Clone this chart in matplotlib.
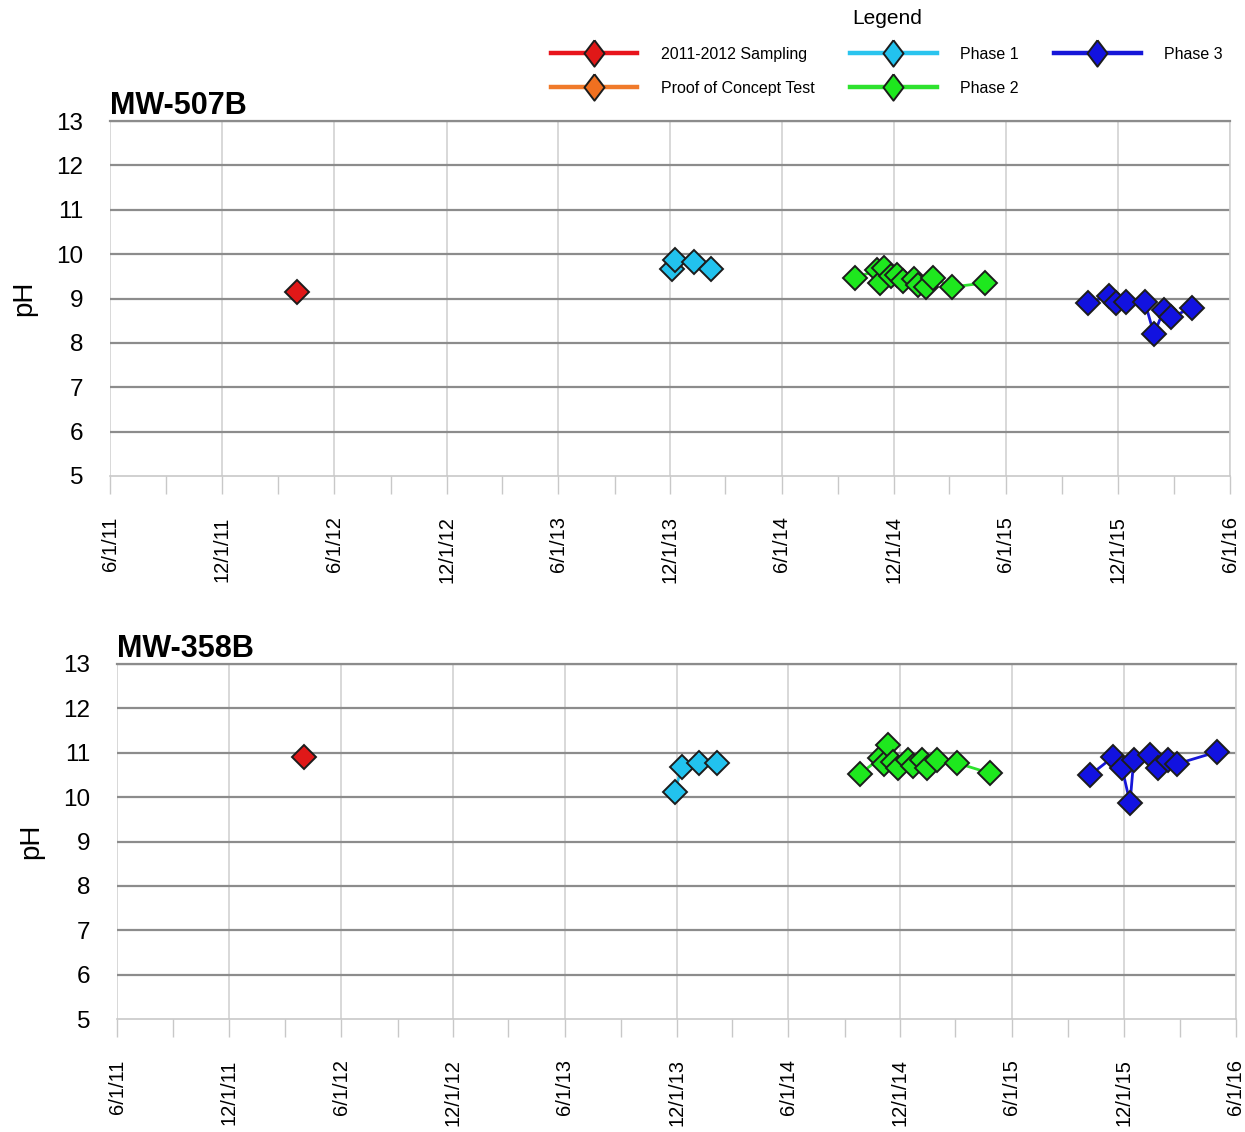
import matplotlib
matplotlib.use("Agg")
import matplotlib.pyplot as plt
import matplotlib.dates as mdates
from matplotlib.lines import Line2D
from matplotlib.ticker import FuncFormatter
import pandas as pd

plt.rcParams['font.family'] = ['Liberation Sans', 'DejaVu Sans']

# ---- MW-507B ----
w1_sampling_dates = ['2012-04-01']
w1_sampling_ph = [9.15]
w1_phase1_dates = ['2013-12-03', '2013-12-08', '2014-01-09', '2014-02-06']
w1_phase1_ph = [9.66, 9.86, 9.82, 9.66]
w1_phase2_dates = ['2014-09-28', '2014-11-03', '2014-11-08', '2014-11-15', '2014-11-26',
                   '2014-12-06', '2014-12-16', '2015-01-02', '2015-01-09', '2015-01-22',
                   '2015-02-03', '2015-03-06', '2015-04-28']
w1_phase2_ph = [9.46, 9.64, 9.35, 9.69, 9.51, 9.53, 9.39, 9.44, 9.30, 9.26, 9.46, 9.26, 9.35]
w1_phase3_dates = ['2015-10-13', '2015-11-17', '2015-11-28', '2015-12-14', '2016-01-14',
                   '2016-01-29', '2016-02-14', '2016-02-26', '2016-03-31']
w1_phase3_ph = [8.90, 9.06, 8.90, 8.92, 8.92, 8.20, 8.74, 8.58, 8.79]

# ---- MW-358B ----
w2_sampling_dates = ['2012-04-01']
w2_sampling_ph = [10.90]
w2_phase1_dates = ['2013-11-28', '2013-12-09', '2014-01-06', '2014-02-05']
w2_phase1_ph = [10.12, 10.68, 10.77, 10.77]
w2_phase2_dates = ['2014-09-26', '2014-10-29', '2014-11-04', '2014-11-11', '2014-11-19',
                   '2014-11-27', '2014-12-13', '2014-12-22', '2015-01-05', '2015-01-13',
                   '2015-01-30', '2015-03-03', '2015-04-26']
w2_phase2_ph = [10.52, 10.88, 10.75, 11.18, 10.79, 10.66, 10.84, 10.70, 10.84, 10.66,
                10.84, 10.77, 10.54]
w2_phase3_dates = ['2015-10-07', '2015-11-13', '2015-11-28', '2015-12-11', '2015-12-17',
                   '2016-01-12', '2016-01-26', '2016-02-11', '2016-02-26', '2016-05-01']
w2_phase3_ph = [10.50, 10.90, 10.65, 9.87, 10.84, 10.95, 10.65, 10.84, 10.75, 11.02]

well_names = ['MW-507B', 'MW-358B']
series_labels = ['2011-2012 Sampling', 'Proof of Concept Test', 'Phase 1', 'Phase 2', 'Phase 3']
y_ticks = [5, 6, 7, 8, 9, 10, 11, 12, 13]
x_start, x_end = '2011-06-01', '2016-06-01'

line_colors = {'2011-2012 Sampling': '#e8141c', 'Proof of Concept Test': '#f07a2a',
               'Phase 1': '#2ac4ee', 'Phase 2': '#2ee22e', 'Phase 3': '#1616d8'}
fill_colors = {'2011-2012 Sampling': '#e01818', 'Proof of Concept Test': '#f07020',
               'Phase 1': '#22c2ee', 'Phase 2': '#1ee81e', 'Phase 3': '#1212e0'}
edge_color = '#1c1c1c'

wells = [
    {'2011-2012 Sampling': (w1_sampling_dates, w1_sampling_ph),
     'Phase 1': (w1_phase1_dates, w1_phase1_ph),
     'Phase 2': (w1_phase2_dates, w1_phase2_ph),
     'Phase 3': (w1_phase3_dates, w1_phase3_ph)},
    {'2011-2012 Sampling': (w2_sampling_dates, w2_sampling_ph),
     'Phase 1': (w2_phase1_dates, w2_phase1_ph),
     'Phase 2': (w2_phase2_dates, w2_phase2_ph),
     'Phase 3': (w2_phase3_dates, w2_phase3_ph)},
]

W, H = 1245, 1132
fig = plt.figure(figsize=(W / 100, H / 100), dpi=100)

# axes boxes in pixels: left, top, right, bottom
boxes = [(110, 121, 1230, 476), (117, 664, 1236, 1019)]


def date_label(x, pos=None):
    d = mdates.num2date(x)
    return f"{d.month}/{d.day}/{d.year % 100:02d}"


for box, name, data in zip(boxes, well_names, wells):
    l, t, r, b = box
    ax = fig.add_axes([l / W, 1 - b / H, (r - l) / W, (b - t) / H])
    ax.set_xlim(pd.Timestamp(x_start), pd.Timestamp(x_end))
    ax.set_ylim(5, 13)
    ax.set_yticks(y_ticks)

    ax.xaxis.set_major_locator(mdates.MonthLocator(bymonth=[6, 12], bymonthday=1))
    ax.xaxis.set_minor_locator(mdates.MonthLocator(bymonth=[3, 9], bymonthday=1))
    ax.xaxis.set_major_formatter(FuncFormatter(date_label))

    ax.tick_params(axis='y', length=0, pad=19, labelsize=17.5)
    ax.tick_params(axis='x', which='both', length=13, width=1.0, color='#c8c8c8',
                   direction='out')
    ax.tick_params(axis='x', which='major', pad=16, labelsize=14.5, labelrotation=90)

    ax.grid(axis='x', which='major', color='#d2d2d2', linewidth=1.2)
    ax.grid(axis='y', which='major', color='#8c8c8c', linewidth=1.6)
    ax.get_ygridlines()[0].set_visible(False)
    ax.set_axisbelow(True)

    ax.spines['left'].set_visible(False)
    ax.spines['right'].set_color('#d2d2d2')
    ax.spines['right'].set_linewidth(1.2)
    ax.spines['top'].set_color('#8c8c8c')
    ax.spines['top'].set_linewidth(1.6)
    ax.spines['bottom'].set_color('#c8c8c8')
    ax.spines['bottom'].set_linewidth(1.2)

    for label in series_labels:
        if label not in data:
            continue
        dates, ph = data[label]
        ax.plot(pd.to_datetime(dates), ph, color=line_colors[label], linewidth=2.0,
                marker='D', markersize=12.5, markerfacecolor=fill_colors[label],
                markeredgecolor=edge_color, markeredgewidth=1.4, zorder=3, clip_on=False)

    ax.set_ylabel('pH', fontsize=20, labelpad=14)
    ax.set_title(name, loc='left', fontsize=22, fontweight='bold', pad=3)

# legend with tall diamond markers
tall_diamond = [(0, 1), (0.76, 0), (0, -1), (-0.76, 0), (0, 1)]
handles = [Line2D([0], [0], color=line_colors[s], linewidth=3.2, marker=tall_diamond,
                  markersize=19, markerfacecolor=fill_colors[s], markeredgecolor=edge_color,
                  markeredgewidth=1.4)
           for s in series_labels]
leg = fig.legend(handles, series_labels, ncol=3, loc='upper left',
                 bbox_to_anchor=(540 / W, 1 + 2 / H), frameon=False, fontsize=11.5,
                 title='Legend', title_fontsize=15, handlelength=5.4, handletextpad=1.5,
                 columnspacing=2.2, labelspacing=1.18, borderpad=0.2)

fig.savefig('out.png', dpi=100)
